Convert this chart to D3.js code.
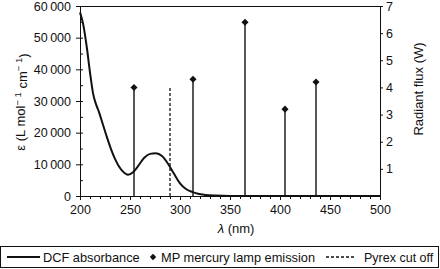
<!DOCTYPE html>
<html>
<head>
<meta charset="utf-8">
<script src="https://cdn.jsdelivr.net/npm/d3@7"></script>
<style>
  body { margin: 0; background: #fff; }
  svg { display: block; font-family: "Liberation Sans", Arial, sans-serif; }
  .axis text { font-size: 12.5px; fill: #111; }
  .axis path, .axis line { stroke: #111; stroke-width: 1; }
</style>
</head>
<body>
<div id="chart"></div>
<script>
// DCF absorbance spectrum (nm, epsilon)
const dcfWavelength = [200, 203, 207, 210, 213, 216, 219, 223, 227, 231, 235, 239, 243, 248, 253, 258, 264, 270, 276, 282, 288, 294, 300, 306, 312, 318, 325, 335, 350, 400, 500];
const dcfEpsilon = [58000, 54500, 46500, 39000, 32500, 29000, 26500, 22500, 18500, 14800, 11700, 9300, 7700, 6700, 7500, 9400, 12000, 13300, 13500, 12600, 10200, 7000, 4000, 2200, 1300, 700, 350, 120, 0, 0, 0];

// MP mercury lamp emission lines (nm, W)
const hgWavelength = [254, 313, 365, 405, 436];
const hgFlux = [4.0, 4.3, 6.4, 3.2, 4.2];

// Pyrex cut off
const pyrexWavelength = 290;
const pyrexFlux = 4.0;

// axis ticks
const xMajorTicks = [200, 250, 300, 350, 400, 450, 500];
const xMinorTicks = d3.range(200, 501, 10);
const yLeftTicks = [0, 10000, 20000, 30000, 40000, 50000, 60000];
const yLeftMinor = d3.range(0, 60001, 5000);
const yRightTicks = [1, 2, 3, 4, 5, 6, 7];

const legendLabels = ['DCF absorbance', 'MP mercury lamp emission', 'Pyrex cut off'];

const W = 440, H = 269;
const mLeft = 80, mRight = 380, mTop = 6, mBottom = 196;

const svg = d3.select('#chart').append('svg')
    .attr('width', W).attr('height', H);

const x = d3.scaleLinear().domain([200, 500]).range([mLeft, mRight]);
const yL = d3.scaleLinear().domain([0, 60000]).range([mBottom, mTop]);
const yR = d3.scaleLinear().domain([0, 7]).range([mBottom, mTop]);

// formato con spazio sottile per le migliaia
const fmt = d => d3.format(',')(d).replace(/,/g, '\u2009');

// asse x: tick minori e maggiori
svg.append('g').attr('class', 'axis')
    .attr('transform', `translate(0,${mBottom})`)
    .call(d3.axisBottom(x).tickValues(xMinorTicks).tickSize(3).tickFormat('').tickSizeOuter(0));
svg.append('g').attr('class', 'axis')
    .attr('transform', `translate(0,${mBottom})`)
    .call(d3.axisBottom(x).tickValues(xMajorTicks).tickSize(4).tickPadding(5).tickFormat(d3.format('d')).tickSizeOuter(0));

// asse sinistro
svg.append('g').attr('class', 'axis')
    .attr('transform', `translate(${mLeft},0)`)
    .call(d3.axisLeft(yL).tickValues(yLeftMinor).tickSize(-3).tickFormat('').tickSizeOuter(0));
svg.append('g').attr('class', 'axis')
    .attr('transform', `translate(${mLeft},0)`)
    .call(d3.axisLeft(yL).tickValues(yLeftTicks).tickSize(4).tickPadding(5).tickFormat(fmt).tickSizeOuter(0));

// asse destro
svg.append('g').attr('class', 'axis')
    .attr('transform', `translate(${mRight},0)`)
    .call(d3.axisRight(yR).tickValues(yRightTicks).tickSize(3).tickPadding(3).tickFormat(d3.format('d')).tickSizeOuter(0));

// bordo superiore
svg.append('line')
    .attr('x1', mLeft).attr('x2', mRight + 3)
    .attr('y1', mTop + 0.5).attr('y2', mTop + 0.5)
    .attr('stroke', '#111');

// titoli assi
svg.append('text')
    .attr('x', 236).attr('y', 233)
    .attr('text-anchor', 'middle')
    .attr('font-size', 13)
    .attr('fill', '#111')
    .html('<tspan font-style="italic">λ</tspan> (nm)');

const yTitle = svg.append('text')
    .attr('transform', 'translate(25,102) rotate(-90)')
    .attr('text-anchor', 'middle')
    .attr('font-size', 13)
    .attr('fill', '#111');
yTitle.append('tspan').text('ε (L mol');
yTitle.append('tspan').attr('dy', '-0.45em').attr('font-size', 9.5).text('\u2212 1');
yTitle.append('tspan').attr('dy', '0.45em').text(' cm');
yTitle.append('tspan').attr('dy', '-0.45em').attr('font-size', 9.5).text('\u2212 1');
yTitle.append('tspan').attr('dy', '0.45em').text(')');

svg.append('text')
    .attr('transform', 'translate(423,89) rotate(-90)')
    .attr('text-anchor', 'middle')
    .attr('font-size', 13)
    .attr('fill', '#111')
    .text('Radiant flux (W)');

// curva di assorbanza
const curveData = dcfWavelength.map((w, i) => ({ w, e: dcfEpsilon[i] }));
const line = d3.line()
    .x(d => x(d.w))
    .y(d => yL(d.e))
    .curve(d3.curveMonotoneX);

svg.append('path')
    .datum(curveData)
    .attr('d', line)
    .attr('fill', 'none')
    .attr('stroke', '#111')
    .attr('stroke-width', 2);

// linea pyrex tratteggiata
svg.append('line')
    .attr('x1', x(pyrexWavelength)).attr('x2', x(pyrexWavelength))
    .attr('y1', yR(0)).attr('y2', yR(pyrexFlux))
    .attr('stroke', '#111')
    .attr('stroke-width', 1.3)
    .attr('stroke-dasharray', '3,2');

// righe di emissione del mercurio
const hgData = hgWavelength.map((w, i) => ({ w, f: hgFlux[i] }));
svg.selectAll('.stem')
    .data(hgData)
    .join('line')
    .attr('class', 'stem')
    .attr('x1', d => x(d.w)).attr('x2', d => x(d.w))
    .attr('y1', yR(0)).attr('y2', d => yR(d.f))
    .attr('stroke', '#111')
    .attr('stroke-width', 1.4);

const diamond = d3.symbol().type(d3.symbolDiamond2).size(32);
svg.selectAll('.mark')
    .data(hgData)
    .join('path')
    .attr('class', 'mark')
    .attr('transform', d => `translate(${x(d.w)},${yR(d.f)})`)
    .attr('d', diamond)
    .attr('fill', '#111');

// legenda
const lg = svg.append('g');
lg.append('rect')
    .attr('x', 0.5).attr('y', 246.5)
    .attr('width', 438).attr('height', 21)
    .attr('fill', 'none')
    .attr('stroke', '#111');

lg.append('line')
    .attr('x1', 7).attr('x2', 40)
    .attr('y1', 257).attr('y2', 257)
    .attr('stroke', '#111').attr('stroke-width', 2);
lg.append('text').attr('x', 43).attr('y', 261.5)
    .attr('font-size', 12.8).attr('fill', '#111').text(legendLabels[0]);

lg.append('path')
    .attr('transform', 'translate(153,257)')
    .attr('d', d3.symbol().type(d3.symbolDiamond2).size(26))
    .attr('fill', '#111');
lg.append('text').attr('x', 161).attr('y', 261.5)
    .attr('font-size', 12.8).attr('fill', '#111').text(legendLabels[1]);

lg.append('line')
    .attr('x1', 326).attr('x2', 356)
    .attr('y1', 257).attr('y2', 257)
    .attr('stroke', '#111').attr('stroke-width', 1.3)
    .attr('stroke-dasharray', '3,2');
lg.append('text').attr('x', 364).attr('y', 261.5)
    .attr('font-size', 12.5).attr('fill', '#111').text(legendLabels[2]);
</script>
</body>
</html>
